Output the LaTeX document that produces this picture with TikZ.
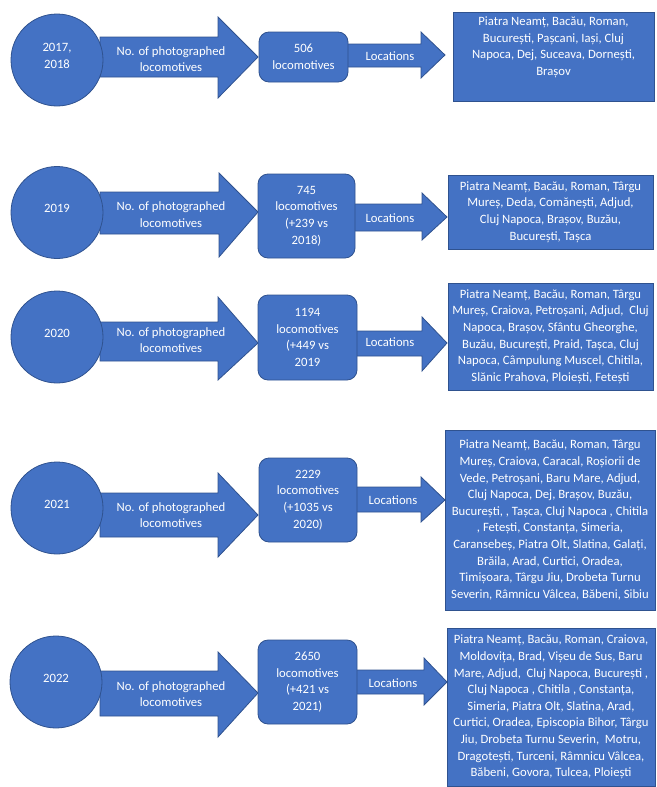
\documentclass[tikz,border=0pt]{standalone}
\usepackage{fontspec}
\setmainfont{Carlito}
\definecolor{boxblue}{RGB}{68,114,196}
\definecolor{edgeblue}{RGB}{47,82,143}
\tikzset{
  blueshape/.style={fill=boxblue, draw=edgeblue, line width=0.8pt},
  wtext/.style={text=white, font=\fontsize{12.7}{16.6}\selectfont, align=center, inner sep=0pt},
  yearcircle/.style={blueshape, circle, minimum size=92pt, inner sep=0pt},
  countbox/.style={blueshape, wtext, rounded corners=10pt},
  locbox/.style={blueshape, wtext},
}
\newcommand\BlkArrow[8]{%
  \draw[blueshape] (#1,#5) -- (#2,#5) -- (#2,#7) -- (#3,#4) -- (#2,#8) -- (#2,#6) -- (#1,#6) -- cycle;}
\begin{document}
\begin{tikzpicture}[x=1pt,y=-1pt]
\useasboundingbox (0,0) rectangle (656,787);

% ---------- Row 1 ----------
\BlkArrow{100}{218}{258}{57}{37}{77}{17}{98}
\BlkArrow{345}{421}{445}{55}{44}{67}{32}{78}
\node[yearcircle] (y1) at (57,60) {};
\node[wtext] (y1t) at ([yshift=4pt]y1.center) {2017,\\2018};
\node[countbox, minimum width=89pt, minimum height=50pt] (c1) at (303.5,57) {506\\locomotives};
\node[wtext] (a1) at (171,59) {No. of photographed\\locomotives};
\node[wtext] (s1) at (390,56) {Locations};
\node[locbox, minimum width=201pt, minimum height=89pt] (l1) at (553.5,56.5) {};
\node[wtext, anchor=north] (t1) at (553.5,16.5) {Piatra Neamț, Bacău, Roman,\\București, Pașcani, Iași, Cluj\\Napoca, Dej, Suceava, Dornești,\\Brașov};

% ---------- Row 2 ----------
\BlkArrow{100}{219}{258}{212}{192}{234}{173}{257}
\BlkArrow{352}{422}{447}{217}{204}{231}{193}{240}
\node[yearcircle] (y2) at (57,212.5) {};
\node[wtext] (y2t) at ([yshift=4pt]y2.center) {2019};
\node[countbox, minimum width=97pt, minimum height=84pt] (c2) at (306.5,216) {745\\locomotives\\(+239 vs\\2018)};
\node[wtext] (a2) at (171,214.5) {No. of photographed\\locomotives};
\node[wtext] (s2) at (390,218) {Locations};
\node[locbox, minimum width=205pt, minimum height=74pt] (l2) at (550.5,212) {Piatra Neamț, Bacău, Roman, Târgu\\Mureș, Deda, Comănești, Adjud,\\Cluj Napoca, Brașov, Buzău,\\București, Tașca};

% ---------- Row 3 ----------
\BlkArrow{100}{218}{258}{343}{322}{361}{297}{380}
\BlkArrow{354}{422}{447}{343}{331}{356}{317}{371}
\node[yearcircle] (y3) at (57,337) {};
\node[wtext] (y3t) at ([yshift=4pt]y3.center) {2020};
\node[countbox, minimum width=99pt, minimum height=85pt] (c3) at (307.5,337.5) {1194\\locomotives\\(+449 vs\\2019};
\node[wtext] (a3) at (171,340) {No. of photographed\\locomotives};
\node[wtext] (s3) at (390,342) {Locations};
\node[locbox, minimum width=205pt, minimum height=107pt] (l3) at (550.5,336.5) {Piatra Neamț, Bacău, Roman, Târgu\\Mureș, Craiova, Petroșani, Adjud,\ \ Cluj\\Napoca, Brașov, Sfântu Gheorghe,\\Buzău, București, Praid, Tașca, Cluj\\Napoca, Câmpulung Muscel, Chitila,\\Slănic Prahova, Ploiești, Fetești};

% ---------- Row 4 ----------
\BlkArrow{100}{218}{258}{515}{493}{537}{473}{557}
\BlkArrow{354}{421}{445}{500}{487}{512}{477}{522}
\node[yearcircle] (y4) at (57,508) {};
\node[wtext] (y4t) at ([yshift=4pt]y4.center) {2021};
\node[countbox, minimum width=98pt, minimum height=84pt] (c4) at (308,500) {2229\\locomotives\\(+1035 vs\\2020)};
\node[wtext] (a4) at (171,515) {No. of photographed\\locomotives};
\node[wtext] (s4) at (393,500) {Locations};
\node[locbox, minimum width=210pt, minimum height=180pt] (l4) at (550,520) {Piatra Neamț, Bacău, Roman, Târgu\\Mureș, Craiova, Caracal, Roșiorii de\\Vede, Petroșani, Baru Mare, Adjud,\\Cluj Napoca, Dej, Brașov, Buzău,\\București, , Tașca, Cluj Napoca , Chitila\\, Fetești, Constanța, Simeria,\\Caransebeș, Piatra Olt, Slatina, Galați,\\Brăila, Arad, Curtici, Oradea,\\Timișoara, Târgu Jiu, Drobeta Turnu\\Severin, Râmnicu Vâlcea, Băbeni, Sibiu};

% ---------- Row 5 ----------
\BlkArrow{100}{218}{258}{693}{671}{716}{652}{737}
\BlkArrow{354}{424}{447}{682}{670}{694}{658}{705}
\node[yearcircle] (y5) at (56,682) {};
\node[wtext] (y5t) at ([yshift=4pt]y5.center) {2022};
\node[countbox, minimum width=99pt, minimum height=84pt] (c5) at (307.5,682) {2650\\locomotives\\(+421 vs\\2021)};
\node[wtext] (a5) at (171,694) {No. of photographed\\locomotives};
\node[wtext] (s5) at (393,683) {Locations};
\node[locbox, minimum width=208pt, minimum height=158pt] (l5) at (551,707) {Piatra Neamț, Bacău, Roman, Craiova,\\Moldovița, Brad, Vișeu de Sus, Baru\\Mare, Adjud,\ \ Cluj Napoca, București ,\\Cluj Napoca , Chitila , Constanța,\\Simeria, Piatra Olt, Slatina, Arad,\\Curtici, Oradea, Episcopia Bihor, Târgu\\Jiu, Drobeta Turnu Severin,\ \ Motru,\\Dragotești, Turceni, Râmnicu Vâlcea,\\Băbeni, Govora, Tulcea, Ploiești};
\end{tikzpicture}
\end{document}
